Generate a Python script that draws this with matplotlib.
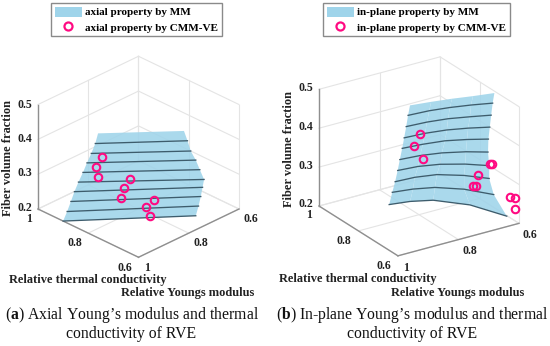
import numpy as np
import matplotlib
matplotlib.use("Agg")
import matplotlib.pyplot as plt
from matplotlib.lines import Line2D
from matplotlib.patches import Patch
from mpl_toolkits.mplot3d import proj3d

FIG_W, FIG_H = 550, 346
SERIF = "Liberation Serif"
SURF_COLOR = "#9fd4ea"
LINE_COLOR = "#3d5c6c"
MARK_COLOR = "#ff0a82"

plt.rcParams["font.family"] = SERIF
plt.rcParams["mathtext.fontset"] = "custom"
plt.rcParams["mathtext.bf"] = "Liberation Serif:bold"
plt.rcParams["mathtext.rm"] = "Liberation Serif"

fiber_levels = [0.2, 0.233, 0.267, 0.3, 0.333, 0.367, 0.4, 0.433, 0.467, 0.5]

# axial surface: left and right end of each level
axial_thermal = [
    [0.900, 0.658], [0.884, 0.645], [0.869, 0.631], [0.855, 0.618], [0.839, 0.600],
    [0.821, 0.600], [0.805, 0.600], [0.788, 0.600], [0.772, 0.600], [0.761, 0.600],
]
axial_young = [
    [1.0, 0.714], [1.0, 0.716], [1.0, 0.721], [1.0, 0.727], [1.0, 0.739],
    [1.0, 0.756], [1.0, 0.772], [1.0, 0.792], [1.0, 0.805], [1.0, 0.819],
]
axial_pts_thermal = [0.768, 0.788, 0.794, 0.737, 0.755, 0.770, 0.714, 0.736, 0.736]
axial_pts_young = [0.976, 0.980, 0.966, 0.895, 0.901, 0.898, 0.826, 0.836, 0.820]
axial_pts_fiber = [0.422, 0.388, 0.352, 0.341, 0.311, 0.276, 0.265, 0.241, 0.209]

# in-plane surface: five read points along each level
inplane_thermal = [
    [0.902, 0.888, 0.860, 0.778, 0.659],
    [0.894, 0.881, 0.857, 0.803, 0.728],
    [0.875, 0.870, 0.852, 0.806, 0.751],
    [0.862, 0.854, 0.833, 0.796, 0.751],
    [0.848, 0.840, 0.822, 0.792, 0.757],
    [0.833, 0.825, 0.811, 0.785, 0.755],
    [0.817, 0.811, 0.797, 0.775, 0.748],
    [0.805, 0.799, 0.786, 0.764, 0.741],
    [0.791, 0.785, 0.772, 0.754, 0.732],
    [0.772, 0.760, 0.746, 0.729, 0.714],
]
inplane_young = [
    [0.832, 0.772, 0.714, 0.646, 0.602],
    [0.827, 0.767, 0.710, 0.649, 0.600],
    [0.830, 0.768, 0.707, 0.647, 0.600],
    [0.830, 0.768, 0.709, 0.650, 0.600],
    [0.832, 0.770, 0.710, 0.650, 0.600],
    [0.834, 0.771, 0.707, 0.651, 0.600],
    [0.838, 0.773, 0.710, 0.654, 0.600],
    [0.839, 0.774, 0.713, 0.655, 0.600],
    [0.842, 0.776, 0.716, 0.658, 0.601],
    [0.848, 0.786, 0.726, 0.668, 0.607],
]
inplane_pts_thermal = [0.813, 0.830, 0.842, 0.750, 0.738, 0.776, 0.785, 0.777, 0.646, 0.620, 0.622]
inplane_pts_young = [0.789, 0.796, 0.759, 0.598, 0.598, 0.620, 0.632, 0.627, 0.600, 0.600, 0.600]
inplane_pts_fiber = [0.401, 0.365, 0.322, 0.305, 0.308, 0.273, 0.2435, 0.244, 0.252, 0.258, 0.231]

fiber_ticks = [0.2, 0.3, 0.4, 0.5]
xy_ticks = [0.6, 0.8, 1.0]


def to_px(ax, x, y, z):
    x2, y2, _ = proj3d.proj_transform(x, y, z, ax.get_proj())
    return ax.transData.transform((x2, y2))


def fit_axes(ax, left_px, right_px):
    """Move the square 3D axes so floor corners land on the wanted pixels."""
    side = 300.0
    cx, cy = np.mean([left_px[0], right_px[0]]), FIG_H - left_px[1]
    for _ in range(4):
        ax.set_position([(cx - side / 2) / FIG_W, (cy - side / 2) / FIG_H, side / FIG_W, side / FIG_H])
        ax.apply_aspect()
        p_left = to_px(ax, 1, 1, 0.2)
        p_right = to_px(ax, 0.6, 0.6, 0.2)
        side *= (right_px[0] - left_px[0]) / (p_right[0] - p_left[0])
        cx += left_px[0] - p_left[0]
        cy += (FIG_H - left_px[1]) - p_left[1]


def draw_frame(ax):
    light = dict(color="#e4e4e4", lw=0.8, zorder=1)
    dark = dict(color="#8f8f8f", lw=1.0, zorder=2)
    # back walls and floor grid
    for v in xy_ticks:
        ax.plot([v, v], [0.6, 1], [0.2, 0.2], **light)
        ax.plot([0.6, 1], [v, v], [0.2, 0.2], **light)
        ax.plot([v, v], [0.6, 0.6], [0.2, 0.5], **light)
        ax.plot([1, 1], [v, v], [0.2, 0.5], **light)
    for z in fiber_ticks:
        ax.plot([1, 1], [0.6, 1], [z, z], **light)
        ax.plot([0.6, 1], [0.6, 0.6], [z, z], **light)
    # the three visible axes
    ax.plot([0.6, 1], [1, 1], [0.2, 0.2], **dark)
    ax.plot([0.6, 0.6], [0.6, 1], [0.2, 0.2], **dark)
    ax.plot([1, 1], [1, 1], [0.2, 0.5], **dark)


def draw_panel(fig, rect_px, azim, elev, aspect, thermal, young, pts):
    ax = fig.add_axes([0, 0, 0.5, 0.5], projection="3d", computed_zorder=False)
    ax.set_proj_type("ortho")
    ax.view_init(elev=elev, azim=azim)
    ax.set_box_aspect(aspect)
    ax.set_xlim(0.6, 1)
    ax.set_ylim(0.6, 1)
    ax.set_zlim(0.2, 0.5)
    ax.set_axis_off()
    ax.patch.set_alpha(0)

    draw_frame(ax)

    thermal = np.array(thermal)
    young = np.array(young)
    fiber = np.repeat(np.array(fiber_levels)[:, None], thermal.shape[1], axis=1)
    ax.plot_surface(thermal, young, fiber, color=SURF_COLOR, alpha=0.88, shade=False,
                    linewidth=0, antialiased=True, rstride=1, cstride=1, zorder=3)
    for i in range(len(fiber_levels) - 1):
        ax.plot(thermal[i], young[i], fiber[i], color=LINE_COLOR, lw=0.95, zorder=4)
    ax.plot(pts[0], pts[1], pts[2], ls="none", marker="o", ms=5.4, mfc="none",
            mec=MARK_COLOR, mew=1.5, zorder=5)

    fit_axes(ax, rect_px[0], rect_px[1])
    return ax


def px_text(fig, x, y, s, **kw):
    kw.setdefault("ha", "center")
    kw.setdefault("va", "center")
    return fig.text(x / FIG_W, 1 - y / FIG_H, s, **kw)


def tick_labels(fig, items):
    for x, y, s in items:
        px_text(fig, x, y, s, fontsize=8.5, fontweight="bold", color="#222222")


def add_legend(fig, x, y, label_surf, label_pts):
    handles = [
        Patch(facecolor=SURF_COLOR, edgecolor="none"),
        Line2D([], [], ls="none", marker="o", ms=5.8, mfc="none", mec=MARK_COLOR, mew=1.6),
    ]
    fig.legend(handles, [label_surf, label_pts], loc="upper left",
               bbox_to_anchor=(x / FIG_W, 1 - y / FIG_H), borderaxespad=0,
               fancybox=False, edgecolor="#8a8a8a", framealpha=1, borderpad=0.32,
               labelspacing=0.42, handlelength=2.45, handletextpad=0.3, handleheight=1.0,
               prop=dict(family=SERIF, weight="bold", size=8.0))


fig = plt.figure(figsize=(FIG_W / 100, FIG_H / 100), dpi=100)

draw_panel(fig, [(38, 209), (239, 209)], 135, 28.7, (142, 142, 119),
           axial_thermal, axial_young, (axial_pts_thermal, axial_pts_young, axial_pts_fiber))
draw_panel(fig, [(319, 206), (519, 225)], 146.9, 24.3, (144.5, 144.5, 128),
           inplane_thermal, inplane_young, (inplane_pts_thermal, inplane_pts_young, inplane_pts_fiber))

add_legend(fig, 51, 3, "axial property by MM", "axial property by CMM-VE")
add_legend(fig, 323, 3, "in-plane property by MM", "in-plane property by CMM-VE")

tick_labels(fig, [
    (25, 105, "0.5"), (25, 139, "0.4"), (25, 173, "0.3"), (25, 208, "0.2"),
    (29, 219, "1"), (75, 243, "0.8"), (125, 268, "0.6"),
    (147, 268, "1"), (201, 243, "0.8"), (251, 219, "0.6"),
    (306, 88, "0.5"), (306, 127, "0.4"), (306, 166, "0.3"), (306, 204, "0.2"),
    (309, 215, "1"), (344, 241, "0.8"), (384, 266, "0.6"),
    (406, 268, "1"), (470, 251, "0.8"), (530, 235, "0.6"),
])

label_style = dict(fontsize=8.9, fontweight="bold", color="#222222")
px_text(fig, 8, 158, "Fiber volume fraction", rotation=90, **label_style)
px_text(fig, 88, 280, "Relative thermal conductivity", **label_style)
px_text(fig, 188, 293, "Relative Youngs modulus", **label_style)
px_text(fig, 289, 149, "Fiber volume fraction", rotation=90, **label_style)
px_text(fig, 358, 279, "Relative thermal conductivity", **label_style)
px_text(fig, 458, 293, "Relative Youngs modulus", **label_style)

cap_style = dict(fontsize=11.35, color="#111111")
px_text(fig, 132, 315, r"($\mathbf{a}$) Axial Young’s modulus and thermal", **cap_style)
px_text(fig, 131, 334, "conductivity of RVE", **cap_style)
px_text(fig, 412, 315, r"($\mathbf{b}$) In-plane Young’s modulus and thermal", **cap_style)
px_text(fig, 412, 334, "conductivity of RVE", **cap_style)

fig.savefig("out.png", dpi=100)
